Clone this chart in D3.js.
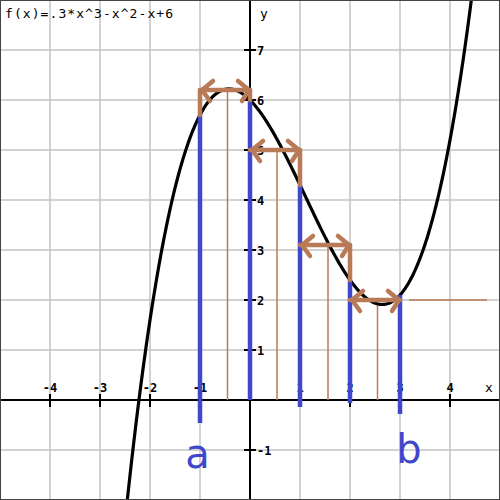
<!DOCTYPE html>
<html>
<head>
<meta charset="utf-8">
<script src="https://cdn.jsdelivr.net/npm/d3@7/dist/d3.min.js"></script>
<style>
html,body{margin:0;padding:0;background:#fff;}
svg{display:block;}
</style>
</head>
<body>
<svg id="chart" width="500" height="500"></svg>
<script>
// ---- data ----
const titleText = "f(x)=.3*x^3-x^2-x+6";
const xTicks = [-4, -3, -2, -1, 1, 2, 3, 4];
const yTicks = [-1, 1, 2, 3, 4, 5, 6, 7];
const xTickLabels = ["-4", "-3", "-2", "-1", "1", "2", "3", "4"];
const yTickLabels = ["-1", "1", "2", "3", "4", "5", "6", "7"];
const coeffs = [0.3, -1, -1, 6];              // f(x) = .3x^3 - x^2 - x + 6
const blueX = [-1, 0, 1, 2, 3];               // blue sample lines
const blueTop = [5.7, 6, 4.3, 2.4, 2.1];      // f at those x
const blueBottom = [-0.46, 0, -0.14, -0.06, -0.28];
const rectStart = [-1, 0, 1, 2];              // orange arrow intervals
const rectEnd = [0, 1, 2, 3];
const rectHeight = [6.2, 5.0, 3.1, 2.0];
const sideX = [-1, 0, 1, 2];                  // orange side segments
const sideTop = [6.2, 6.2, 5.0, 3.1];
const sideBottom = [5.7, 6.0, 4.3, 2.4];
const midX = [-0.45, 0.54, 1.56, 2.55];       // thin orange verticals
const midTop = [6.2, 5.0, 3.1, 2.0];
const extraLineX = [3.18, 4.74];              // thin orange horizontal
const extraLineY = 2.0;
const handLabels = ["a", "b"];
const handX = [-1.05, 3.18];
const handY = [-1.35, -1.25];

// ---- scales ----
const W = 500, H = 500;
const x = d3.scaleLinear().domain([-5, 5]).range([0, W]);
const y = d3.scaleLinear().domain([-2, 8]).range([H, 0]);
const f = t => coeffs[0]*t*t*t + coeffs[1]*t*t + coeffs[2]*t + coeffs[3];

const BLUE = "#3f48cc", BROWN = "#b97a57", GRID = "#c3c3c3";
const svg = d3.select("#chart");
svg.append("rect").attr("width", W).attr("height", H).attr("fill", "#fff");

// grid
const gridX = d3.range(-4, 5), gridY = d3.range(-1, 8);
svg.append("g").selectAll("line").data(gridX).join("line")
  .attr("x1", d => x(d)).attr("x2", d => x(d)).attr("y1", 0).attr("y2", H)
  .attr("stroke", GRID).attr("stroke-width", 1.5);
svg.append("g").selectAll("line").data(gridY).join("line")
  .attr("y1", d => y(d)).attr("y2", d => y(d)).attr("x1", 0).attr("x2", W)
  .attr("stroke", GRID).attr("stroke-width", 1.5);

// axes
svg.append("line").attr("x1", 0).attr("x2", W).attr("y1", y(0)).attr("y2", y(0))
  .attr("stroke", "#000").attr("stroke-width", 2);
svg.append("line").attr("x1", x(0)).attr("x2", x(0)).attr("y1", 0).attr("y2", H)
  .attr("stroke", "#000").attr("stroke-width", 2);

// ticks
svg.append("g").selectAll("line").data(xTicks).join("line")
  .attr("x1", d => x(d)).attr("x2", d => x(d)).attr("y1", y(0) - 6).attr("y2", y(0) + 7)
  .attr("stroke", "#000").attr("stroke-width", 2);
svg.append("g").selectAll("line").data(yTicks).join("line")
  .attr("y1", d => y(d)).attr("y2", d => y(d)).attr("x1", x(0) - 6).attr("x2", x(0) + 6)
  .attr("stroke", "#000").attr("stroke-width", 2);

const monoBold = "'DejaVu Sans Mono', monospace";
svg.append("g").selectAll("text").data(xTicks).join("text")
  .attr("x", d => x(d) + (d < 0 ? 0 : 0)).attr("y", y(0) - 8)
  .attr("text-anchor", "middle").attr("font-family", monoBold).attr("font-weight", "bold")
  .attr("font-size", 12).attr("fill", "#000")
  .text((d, i) => xTickLabels[i]);
svg.append("g").selectAll("text").data(yTicks).join("text")
  .attr("x", x(0) + 7).attr("y", d => y(d) + 5)
  .attr("text-anchor", "start").attr("font-family", monoBold).attr("font-weight", "bold")
  .attr("font-size", 12).attr("fill", "#000")
  .text((d, i) => yTickLabels[i]);

svg.append("text").attr("x", x(0) + 10).attr("y", 18).attr("font-family", monoBold)
  .attr("font-size", 13).attr("fill", "#000").text("y");
svg.append("text").attr("x", x(4.78)).attr("y", y(0) - 8).attr("text-anchor", "middle")
  .attr("font-family", monoBold).attr("font-size", 13).attr("fill", "#000").text("x");

// thin orange lines
svg.append("g").selectAll("line").data(midX).join("line")
  .attr("x1", d => x(d)).attr("x2", d => x(d))
  .attr("y1", y(0)).attr("y2", (d, i) => y(midTop[i]))
  .attr("stroke", BROWN).attr("stroke-width", 1.5);
svg.append("line").attr("x1", x(extraLineX[0])).attr("x2", x(extraLineX[1]))
  .attr("y1", y(extraLineY)).attr("y2", y(extraLineY))
  .attr("stroke", BROWN).attr("stroke-width", 1.5);

// curve
const xs = d3.range(-5, 5.0001, 0.02);
const clip = svg.append("clipPath").attr("id", "clip").append("rect")
  .attr("width", W).attr("height", H);
svg.append("path").datum(xs)
  .attr("clip-path", "url(#clip)")
  .attr("d", d3.line().x(d => x(d)).y(d => y(f(d))))
  .attr("fill", "none").attr("stroke", "#000").attr("stroke-width", 3.2);

// blue lines
svg.append("g").selectAll("line").data(blueX).join("line")
  .attr("x1", d => x(d)).attr("x2", d => x(d))
  .attr("y1", (d, i) => y(blueBottom[i])).attr("y2", (d, i) => y(blueTop[i]))
  .attr("stroke", BLUE).attr("stroke-width", 4.5);

// orange arrows
const g = svg.append("g").attr("stroke", BROWN).attr("stroke-width", 4.5)
  .attr("fill", "none").attr("stroke-linecap", "round").attr("stroke-linejoin", "round");
g.selectAll("line.side").data(sideX).join("line").attr("class", "side")
  .attr("x1", d => x(d)).attr("x2", d => x(d))
  .attr("y1", (d, i) => y(sideTop[i])).attr("y2", (d, i) => y(sideBottom[i]));
g.selectAll("line.bar").data(rectStart).join("line").attr("class", "bar")
  .attr("x1", d => x(d)).attr("x2", (d, i) => x(rectEnd[i]))
  .attr("y1", (d, i) => y(rectHeight[i])).attr("y2", (d, i) => y(rectHeight[i]));
// arrowheads
g.selectAll("path.left").data(rectStart).join("path").attr("class", "left")
  .attr("d", (d, i) => {
    const tx = x(d) + 2, ty = y(rectHeight[i]);
    return `M${tx + 11},${ty - 9} L${tx},${ty} L${tx + 8},${ty + 11}`;
  });
g.selectAll("path.right").data(rectEnd).join("path").attr("class", "right")
  .attr("d", (d, i) => {
    const tx = x(d) - 1, ty = y(rectHeight[i]);
    return `M${tx - 11},${ty - 9} L${tx},${ty} L${tx - 7},${ty + 11}`;
  });

// handwritten labels
svg.append("g").selectAll("text").data(handLabels).join("text")
  .attr("x", (d, i) => x(handX[i])).attr("y", (d, i) => y(handY[i]))
  .attr("text-anchor", "middle").attr("font-family", "'DejaVu Sans', sans-serif")
  .attr("font-size", 40).attr("fill", BLUE).text(d => d);

// title
svg.append("text").attr("x", 5).attr("y", 18).attr("font-family", monoBold)
  .attr("font-size", 13).attr("fill", "#000")
  .attr("textLength", 168).attr("lengthAdjust", "spacing").text(titleText);

// border
svg.append("rect").attr("x", 0.5).attr("y", 0.5).attr("width", W - 1).attr("height", H - 1)
  .attr("fill", "none").attr("stroke", "#444").attr("stroke-width", 1);
</script>
</body>
</html>
